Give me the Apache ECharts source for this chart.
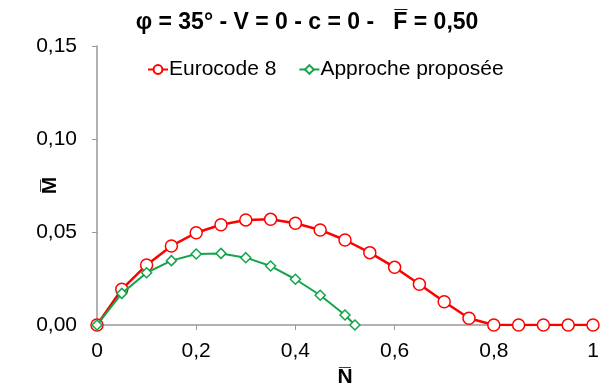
<!DOCTYPE html>
<html>
<head>
<meta charset="utf-8">
<script src="https://cdn.jsdelivr.net/npm/echarts@6/dist/echarts.min.js"></script>
<style>html,body{margin:0;padding:0;background:#fff}#main{width:603px;height:392px}</style>
</head>
<body>
<div id="main"></div>
<script>
// données
var nEurocode = [0, 0.05, 0.1, 0.15, 0.2, 0.25, 0.3, 0.35, 0.4, 0.45, 0.5, 0.55, 0.6, 0.65, 0.7, 0.75, 0.8, 0.85, 0.9, 0.95, 1];
var mEurocode = [0, 0.0192, 0.0323, 0.0425, 0.0496, 0.0539, 0.0565, 0.0568, 0.0547, 0.0511, 0.0457, 0.0389, 0.031, 0.0219, 0.0125, 0.0036, 0, 0, 0, 0, 0];
var nApproche = [0, 0.05, 0.1, 0.15, 0.2, 0.25, 0.3, 0.35, 0.4, 0.45, 0.5, 0.52];
var mApproche = [0, 0.017, 0.0281, 0.0346, 0.0382, 0.0385, 0.0362, 0.0317, 0.0246, 0.016, 0.0054, 0];

function pairs(xs, ys) {
  var out = [];
  for (var i = 0; i < xs.length; i++) out.push([xs[i], ys[i]]);
  return out;
}

var myChart = echarts.init(document.getElementById('main'));
var font = 'Liberation Sans, Arial, sans-serif';

var option = {
  animation: false,
  title: {
    text: 'φ = 35° - V = 0 - c = 0 -   F\u0305 = 0,50',
    left: 302, textAlign: 'center', top: 6,
    textStyle: { fontFamily: font, fontSize: 23, fontWeight: 'bold', color: '#000' }
  },
  legend: {
    top: 54, left: 142, itemGap: 22, itemWidth: 20, itemHeight: 11,
    textStyle: { fontFamily: font, fontSize: 21, color: '#000', padding: [0, 0, 0, -4] },
    data: ['Eurocode 8', 'Approche proposée']
  },
  grid: { left: 97, right: 10, top: 46, bottom: 67, outerBoundsMode: 'none', containLabel: false },
  xAxis: {
    type: 'value', min: 0, max: 1, interval: 0.2,
    name: 'N\u0305', nameLocation: 'middle', nameGap: 42, nameMoveOverlap: false,
    nameTextStyle: { fontFamily: font, fontSize: 21, fontWeight: 'bold', color: '#000' },
    axisLine: { lineStyle: { color: '#999', width: 1.5 } },
    axisTick: { show: true, length: 5, lineStyle: { color: '#999' } },
    splitLine: { show: false },
    axisLabel: {
      fontFamily: font, fontSize: 21, color: '#000', margin: 16,
      formatter: function (v) { return String(Math.round(v * 10) / 10).replace('.', ','); }
    }
  },
  yAxis: {
    type: 'value', min: 0, max: 0.15, interval: 0.05,
    name: 'M\u0305', nameLocation: 'middle', nameGap: 36, nameRotate: 90, nameMoveOverlap: false,
    nameTextStyle: { fontFamily: font, fontSize: 21, fontWeight: 'bold', color: '#000' },
    axisLine: { show: true, lineStyle: { color: '#999', width: 1.5 } },
    axisTick: { show: true, length: 5, lineStyle: { color: '#999' } },
    splitLine: { show: false },
    axisLabel: {
      fontFamily: font, fontSize: 21, color: '#000', margin: 20,
      formatter: function (v) { return v.toFixed(2).replace('.', ','); }
    }
  },
  series: [{
    name: 'Eurocode 8',
    type: 'line',
    data: pairs(nEurocode, mEurocode),
    symbol: 'circle', symbolSize: 12,
    lineStyle: { color: '#ff0000', width: 2.5 },
    itemStyle: { color: '#fff', borderColor: '#ff0000', borderWidth: 1.5 },
    z: 2
  }, {
    name: 'Approche proposée',
    type: 'line',
    data: pairs(nApproche, mApproche),
    symbol: 'diamond', symbolSize: 10,
    lineStyle: { color: '#13a54c', width: 2 },
    itemStyle: { color: '#fff', borderColor: '#13a54c', borderWidth: 1.5 },
    z: 3
  }]
};
myChart.setOption(option);
</script>
</body>
</html>
